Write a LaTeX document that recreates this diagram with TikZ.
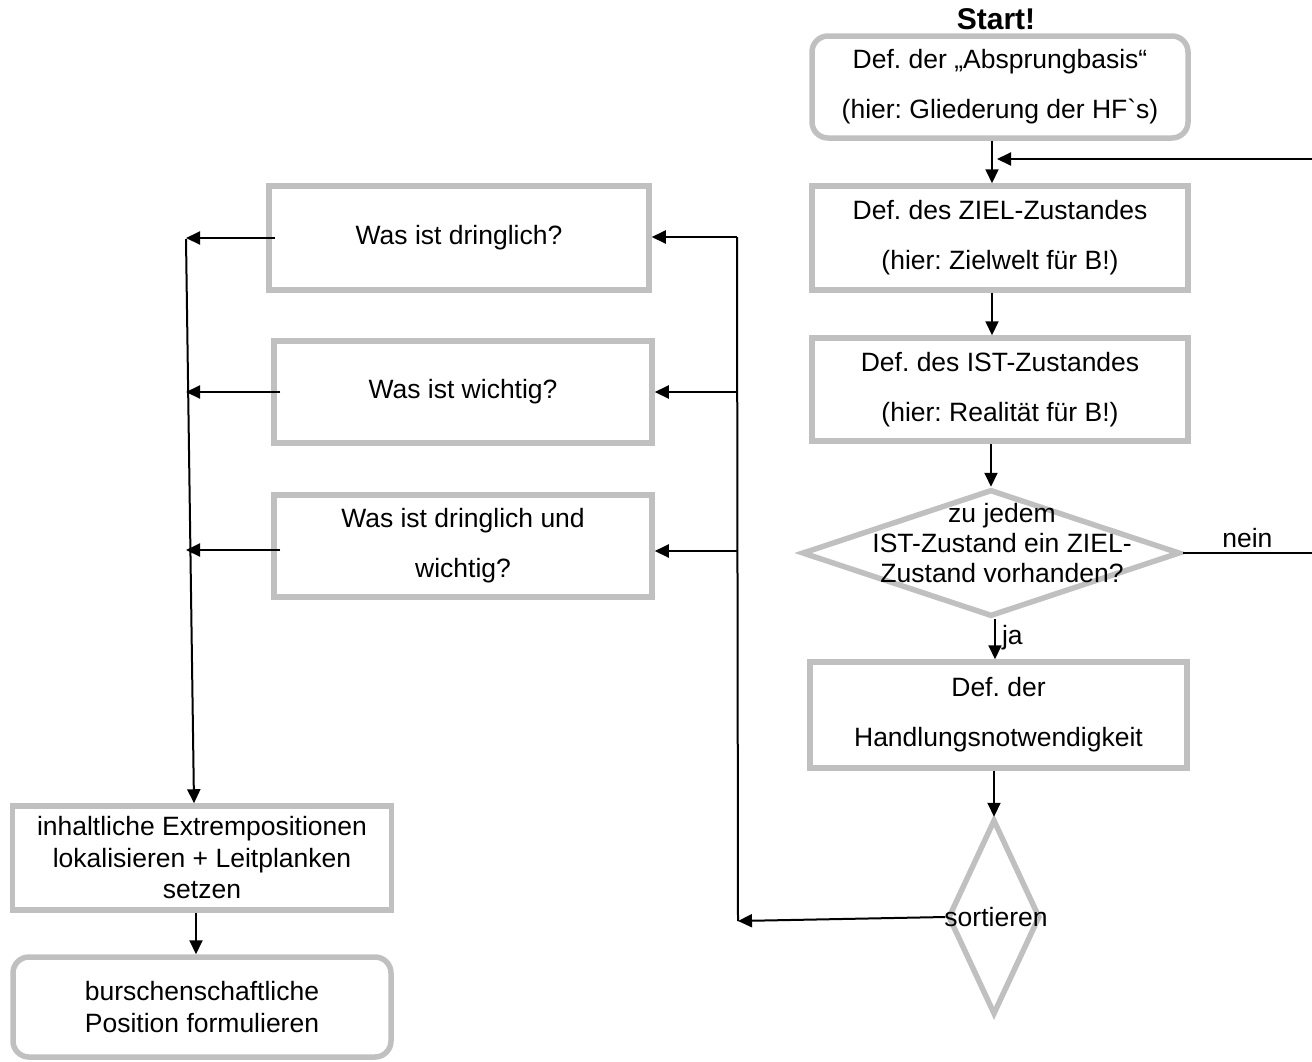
\documentclass[tikz,border=0pt]{standalone}
\usepackage{fontspec}
\setmainfont{Liberation Sans}[Ligatures=TeXOff]
\usetikzlibrary{arrows.meta,shapes.geometric}
\definecolor{boxgray}{RGB}{192,192,192}
\frenchspacing

\begin{document}
\begin{tikzpicture}[x=1pt,y=-1pt,
  txt/.style={font=\fontsize{26.5}{50}\selectfont, align=center, inner sep=0pt},
  box/.style={draw=boxgray, line width=5.5pt, rectangle, txt},
  rbox/.style={box, rounded corners=16pt},
  decision/.style={draw=boxgray, line width=5.5pt, diamond, inner sep=0pt},
  link/.style={line width=2pt, -{Triangle[length=14pt,width=13pt]}},
  plain/.style={line width=2pt}]
\useasboundingbox (0,0) rectangle (1312,1061);

% main column
\node[font=\fontsize{30}{36}\selectfont\bfseries, inner sep=0pt] (start) at (996,19) {Start!};
\node[rbox, minimum width=376pt, minimum height=102pt] (absprung) at (1000,87)
  {Def. der „Absprungbasis“\\(hier: Gliederung der HF`s)};
\node[box, minimum width=376pt, minimum height=104pt] (ziel) at (1000,238)
  {Def. des ZIEL-Zustandes\\(hier: Zielwelt für B!)};
\node[box, minimum width=376pt, minimum height=103pt] (ist) at (1000,389.5)
  {Def. des IST-Zustandes\\(hier: Realität für B!)};
\node[decision, minimum width=378pt, minimum height=127pt] (check) at (991,553) {};
\node[txt, font=\fontsize{26.5}{30}\selectfont] (checktext) at (1002,543)
  {zu jedem\\IST-Zustand ein ZIEL-\\Zustand vorhanden?};
\node[box, minimum width=377pt, minimum height=106pt] (handl) at (998.5,715)
  {Def. der\\Handlungsnotwendigkeit};
\node[decision, minimum width=92pt, minimum height=195pt] (sort) at (994,917) {};
\node[txt] (sorttext) at (996,917) {sortieren};

% question boxes
\node[box, minimum width=380pt, minimum height=104pt] (w1) at (459,238) {Was ist dringlich?};
\node[box, minimum width=378pt, minimum height=102pt] (w2) at (463,392) {Was ist wichtig?};
\node[box, minimum width=378pt, minimum height=102pt] (w3) at (463,546)
  {Was ist dringlich und\\wichtig?};

% result column
\node[box, minimum width=379pt, minimum height=104pt, font=\fontsize{26.5}{31.5}\selectfont] (ext) at (202,858)
  {inhaltliche Extrempositionen\\lokalisieren + Leitplanken\\setzen};
\node[rbox, minimum width=378pt, minimum height=100pt, font=\fontsize{26.5}{32}\selectfont] (pos) at (202,1007)
  {burschenschaftliche\\Position formulieren};

% connectors of the main column
\coordinate (fbin) at (1312,159);
\coordinate (neinout) at (1312,553);
\draw[link] ([xshift=-8pt]absprung.south) -- ([xshift=-8pt]ziel.north);
\draw[link] (fbin) -- ([xshift=-3pt]fbin -| absprung.south);
\draw[link] ([xshift=-8pt]ziel.south) -- ([xshift=-8pt]ist.north);
\draw[link] (ist.south -| check.north) -- (check.north);
\draw[link] ([xshift=4pt]check.south) -- ([xshift=4pt]check.south |- handl.north)
  node[pos=0.45, right=6pt, txt] (ja) {ja};
\draw[plain] (check.east) -- (neinout)
  node[pos=0.5, above=4pt, txt] (nein) {nein};
\draw[link] (handl.south -| sort.north) -- (sort.north);

% distribution to the questions
\coordinate (bustop) at (737,237);
\coordinate (busend) at (738,921);
\draw[link] (sort.west) -- (busend);
\draw[plain] (busend) -- (bustop);
\draw[link] (bustop) -- (bustop -| w1.east);
\draw[link] (bustop |- w2.east) -- (w2.east);
\draw[link] ([yshift=-5pt]bustop |- w3.east) -- ([yshift=-5pt]w3.east);

% collection on the left
\coordinate (lbus) at (186,239);
\draw[link] ([xshift=9pt]w1.west) -- (w1.west -| lbus);
\draw[link] ([xshift=9pt]w2.west) -- (w2.west -| lbus);
\draw[link] ([xshift=9pt,yshift=-4pt]w3.west) -- ([yshift=-4pt]w3.west -| lbus);
\draw[link] (lbus) -- ([xshift=-8pt]ext.north);
\draw[link] ([xshift=-6pt]ext.south) -- ([xshift=-6pt]pos.north);
\end{tikzpicture}
\end{document}
